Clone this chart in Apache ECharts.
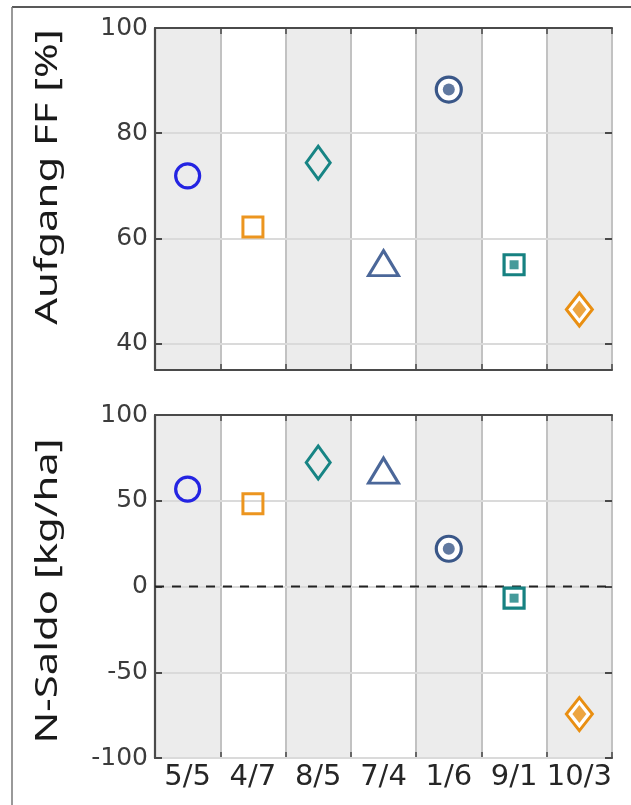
<!DOCTYPE html>
<html>
<head>
<meta charset="utf-8">
<script src="https://cdn.jsdelivr.net/npm/echarts@6/dist/echarts.min.js"></script>
<style>
  html, body { margin: 0; padding: 0; background: #fff; }
  #chart { width: 631px; height: 805px; }
</style>
</head>
<body>
<div id="chart"></div>
<script>
// Field trial variants on the x axis
const categories = ['5/5', '4/7', '8/5', '7/4', '1/6', '9/1', '10/3'];
// Field emergence (Aufgang FF) in percent
const aufgangFF = [71.9, 62.2, 74.4, 55.3, 88.3, 55.0, 46.5];
// Nitrogen balance in kg/ha
const nSaldo = [56.8, 48.2, 72.3, 67.6, 22.0, -6.8, -74.4];
// Tick values of the two value axes
const aufgangTicks = [40, 60, 80, 100];
const saldoTicks = [-100, -50, 0, 50, 100];
// Reference level drawn dashed in the balance panel
const saldoZero = 0;

// One marker look per variant (outer shape, optional filled core)
const markerStyles = [
  { symbol: 'circle',   size: 24,       color: '#2424e2', bw: 3.2, fill: 'rgba(255,255,255,0)', core: null },
  { symbol: 'rect',     size: 20,       color: '#ec951f', bw: 3,   fill: 'rgba(255,255,255,0)', core: null },
  { symbol: 'diamond',  size: [24, 33], color: '#178484', bw: 3,   fill: 'rgba(255,255,255,0)', core: null },
  { symbol: 'triangle', size: [30, 25], color: '#4b6799', bw: 3,   fill: 'rgba(255,255,255,0)', core: null },
  { symbol: 'circle',   size: 25,       color: '#3a5788', bw: 3.2, fill: '#ffffff', core: 12 },
  { symbol: 'rect',     size: 20,       color: '#168181', bw: 3.2, fill: '#ffffff', core: 9 },
  { symbol: 'diamond',  size: [26, 33], color: '#e98f12', bw: 3,   fill: '#ffffff', core: [14, 18] }
];

const axisGrey = '#4a4a4a';
const grids = [
  { left: 155, right: 19, top: 28, height: 342 },
  { left: 155, right: 19, top: 415, height: 343 }
];

function xAxesFor(gridIndex, showLabels) {
  return [
    {
      type: 'category', gridIndex: gridIndex, data: categories, position: 'bottom',
      boundaryGap: true, z: 0,
      axisLine: { show: true, onZero: false, lineStyle: { color: axisGrey, width: 2.2 } },
      axisTick: { show: true, inside: true, length: 6, interval: 0, lineStyle: { color: axisGrey, width: 1.5 } },
      axisLabel: {
        show: showLabels, interval: 0, margin: 5, color: '#262626',
        fontSize: 29, fontFamily: 'DejaVu Sans'
      },
      splitLine: { show: true, interval: 0, lineStyle: { color: '#c2c2c2', width: 2 } },
      splitArea: { show: true, interval: 0, areaStyle: { color: ['#ececec', '#ffffff'] } }
    },
    {
      type: 'category', gridIndex: gridIndex, data: categories, position: 'top',
      boundaryGap: true, z: 2,
      axisLine: { show: true, onZero: false, lineStyle: { color: axisGrey, width: 2.2 } },
      axisTick: { show: true, inside: true, length: 6, interval: 0, lineStyle: { color: axisGrey, width: 1.5 } },
      axisLabel: { show: false },
      splitLine: { show: false }
    }
  ];
}

function yAxesFor(gridIndex, min, max, ticks) {
  const base = {
    type: 'value', gridIndex: gridIndex, min: min, max: max, z: 2
  };
  return [
    Object.assign({}, base, {
      position: 'left',
      axisLine: { show: true, onZero: false, lineStyle: { color: axisGrey, width: 2.2 } },
      axisTick: { show: true, inside: true, length: 7, customValues: ticks, lineStyle: { color: axisGrey, width: 2 } },
      axisLabel: {
        show: true, customValues: ticks, margin: 7, color: '#3c3c3c',
        fontSize: 25, fontFamily: 'DejaVu Sans'
      },
      splitLine: { show: true, lineStyle: { color: '#dadada', width: 2 } }
    }),
    Object.assign({}, base, {
      position: 'right',
      axisLine: { show: false, onZero: false },
      axisTick: { show: true, inside: true, length: 7, customValues: ticks, lineStyle: { color: axisGrey, width: 2 } },
      axisLabel: { show: false },
      splitLine: { show: false }
    })
  ];
}

function markerSeries(gridIndex, values) {
  const out = [];
  categories.forEach(function (cat, i) {
    const m = markerStyles[i];
    out.push({
      type: 'scatter', xAxisIndex: gridIndex * 2, yAxisIndex: gridIndex * 2,
      data: [[cat, values[i]]], symbol: m.symbol, symbolSize: m.size,
      itemStyle: { color: m.fill, borderColor: m.color, borderWidth: m.bw, opacity: 1 },
      z: 5, silent: true, animation: false
    });
    if (m.core) {
      out.push({
        type: 'scatter', xAxisIndex: gridIndex * 2, yAxisIndex: gridIndex * 2,
        data: [[cat, values[i]]], symbol: m.symbol, symbolSize: m.core,
        itemStyle: { color: m.color, borderWidth: 0 },
        z: 6, silent: true, animation: false
      });
    }
  });
  return out;
}

// Hidden 0..1 axis spanning the balance panel, used for the dashed zero line
const spanAxis = {
  type: 'value', gridIndex: 1, min: 0, max: 1, show: false,
  axisLine: { show: false, onZero: false }, axisTick: { show: false }, axisLabel: { show: false },
  splitLine: { show: false }
};
const zeroLineSeries = {
  type: 'line', xAxisIndex: 4, yAxisIndex: 2,
  data: [[0, saldoZero], [1, saldoZero]],
  symbol: 'none', silent: true, z: 4, animation: false,
  lineStyle: { color: '#222222', type: [9, 8], width: 2 }
};

const chart = echarts.init(document.getElementById('chart'), null, { renderer: 'canvas' });
chart.setOption({
  animation: false,
  backgroundColor: '#ffffff',
  grid: grids,
  xAxis: xAxesFor(0, false).concat(xAxesFor(1, true), [spanAxis]),
  yAxis: yAxesFor(0, 35, 100, aufgangTicks).concat(yAxesFor(1, -100, 100, saldoTicks)),
  series: markerSeries(0, aufgangFF).concat([zeroLineSeries], markerSeries(1, nSaldo)),
  graphic: [
    {
      type: 'text', x: 48, y: 177, rotation: Math.PI / 2, scaleX: 1.35, z: 50,
      style: {
        text: 'Aufgang FF [%]', fontSize: 31, fontFamily: 'Noto Sans',
        fill: '#1a1a1a', align: 'center', verticalAlign: 'middle'
      }
    },
    {
      type: 'text', x: 48, y: 591, rotation: Math.PI / 2, scaleX: 1.35, z: 50,
      style: {
        text: 'N-Saldo [kg/ha]', fontSize: 31, fontFamily: 'Noto Sans',
        fill: '#1a1a1a', align: 'center', verticalAlign: 'middle'
      }
    },
    // figure frame
    { type: 'line', z: 60, shape: { x1: 12, y1: 7, x2: 631, y2: 7 }, style: { stroke: '#222222', lineWidth: 1.5 } },
    { type: 'line', z: 60, shape: { x1: 12, y1: 7, x2: 12, y2: 805 }, style: { stroke: '#777777', lineWidth: 1.5 } },
    // right margin of the figure
    { type: 'rect', z: 70, shape: { x: 612, y: 761, width: 19, height: 44 }, style: { fill: '#ffffff' } }
  ]
});
</script>
</body>
</html>
